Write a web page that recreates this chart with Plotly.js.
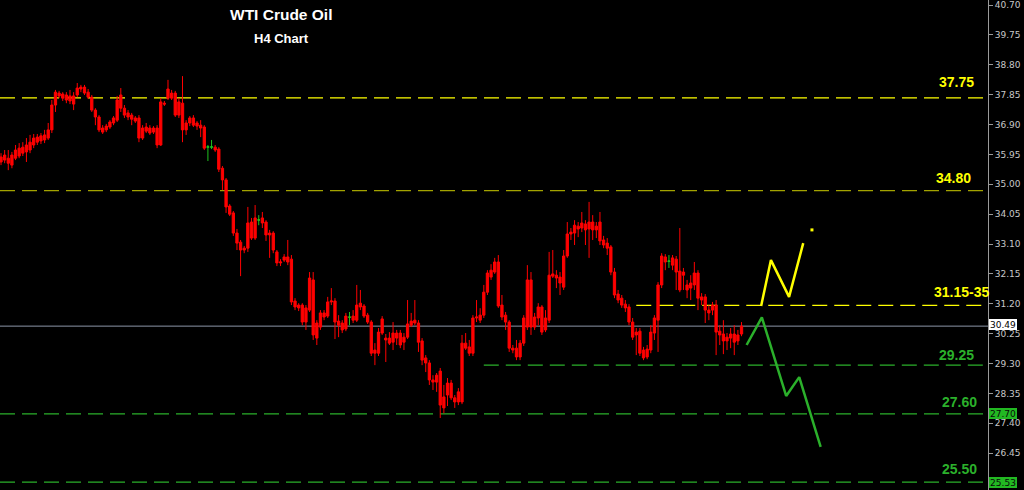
<!DOCTYPE html>
<html>
<head>
<meta charset="utf-8">
<script src="https://cdn.plot.ly/plotly-3.0.1.min.js"></script>
<style>html,body{margin:0;padding:0;background:#000;}#chart{width:1024px;height:490px;}</style>
</head>
<body>
<div id="chart"></div>
<script>
// ---- data (WTI Crude Oil, H4) ----
const openP = [35.71,35.93,35.67,35.61,35.83,35.90,35.99,36.03,36.09,36.25,36.34,36.38,36.41,36.47,36.73,37.52,37.90,37.87,37.84,37.81,37.55,37.84,38.09,38.09,37.93,37.77,37.36,37.14,36.66,36.73,36.82,36.95,37.04,37.84,37.42,37.27,37.20,37.11,37.11,36.47,36.82,36.63,36.79,36.79,36.25,37.58,37.74,37.90,37.90,37.20,37.58,36.73,36.95,37.11,36.95,36.88,36.82,36.18,36.18,36.18,36.12,35.51,35.14,34.31,34.09,33.45,33.16,32.91,32.97,33.80,33.29,33.86,33.93,33.80,33.45,33.45,32.85,32.50,32.59,32.69,32.62,31.29,31.16,31.16,30.62,31.00,31.96,30.11,30.46,30.78,30.81,31.26,31.29,30.65,30.59,30.40,30.77,30.81,30.68,31.10,31.13,30.84,30.62,29.73,29.63,30.27,30.11,30.11,29.98,30.27,30.27,29.98,30.14,30.52,30.68,30.59,30.02,29.48,29.32,28.78,28.71,29.06,27.89,28.30,28.68,28.21,28.08,28.08,29.95,29.83,29.63,30.75,30.68,30.84,31.57,32.05,32.21,32.53,31.16,30.84,30.62,29.79,29.79,29.51,29.95,30.46,31.96,30.46,30.75,31.10,30.37,30.68,32.08,32.11,32.05,31.73,32.72,33.42,33.45,33.67,33.61,33.74,33.58,33.80,33.55,33.80,33.23,33.13,33.01,32.21,31.51,31.38,31.19,31.10,30.62,30.30,30.33,29.73,29.51,29.73,30.27,30.68,31.80,32.69,32.55,32.66,32.62,32.24,32.11,31.80,31.70,31.80,32.18,31.42,31.42,31.00,31.00,31.16,30.33,30.24,30.02,30.11,30.24,30.02,30.24];
const highP = [35.99,36.09,36.09,36.03,36.25,36.31,36.34,36.47,36.57,36.60,36.60,36.63,36.73,36.95,37.68,38.00,37.97,37.93,37.93,38.00,37.93,38.22,38.16,38.16,38.03,37.84,37.42,37.20,36.88,36.92,37.04,37.17,37.81,38.06,37.52,37.36,37.27,37.17,37.20,36.88,36.95,36.88,36.85,36.88,37.74,37.65,38.32,38.00,37.97,37.74,38.44,37.04,37.17,37.20,37.01,37.04,36.88,36.25,36.41,36.25,36.18,35.58,35.20,34.37,34.15,33.58,33.23,33.04,34.28,33.93,34.34,34.02,34.12,33.86,33.55,33.51,32.91,32.62,32.78,33.23,32.75,31.38,31.22,31.22,31.16,32.21,32.21,30.68,31.00,31.00,31.42,31.70,31.38,30.84,30.68,30.91,30.94,31.00,31.80,31.64,31.19,30.91,30.68,29.95,30.43,30.81,30.24,30.30,30.62,30.37,30.37,30.27,31.32,30.91,31.32,30.68,30.11,29.57,29.41,28.93,29.00,29.16,28.62,28.84,28.78,28.30,28.52,30.21,30.27,30.05,30.84,31.32,31.06,31.80,32.27,32.46,32.66,32.75,31.48,30.94,30.68,29.89,30.05,30.05,30.84,32.43,32.21,30.91,31.22,31.16,31.00,32.85,32.91,32.27,32.21,32.91,33.80,33.61,33.86,33.80,34.12,33.86,34.44,34.02,33.80,34.12,33.36,33.29,33.07,32.34,31.64,31.48,31.32,31.19,30.75,30.43,30.43,29.83,29.89,30.52,30.84,31.89,32.81,32.78,32.75,32.75,32.72,33.61,32.34,31.96,32.11,32.53,32.27,31.54,31.51,31.16,31.26,31.32,30.52,30.68,30.27,30.43,30.52,30.37,30.62];
const lowP = [35.61,35.67,35.45,35.51,35.77,35.83,35.90,35.71,35.99,36.15,36.25,36.28,36.31,36.41,36.63,37.30,37.74,37.65,37.58,37.55,37.36,37.77,37.93,37.84,37.71,37.30,36.88,36.66,36.60,36.66,36.76,36.88,36.98,37.30,37.11,37.04,36.88,36.95,36.34,36.41,36.63,36.57,36.60,36.15,36.22,37.49,37.68,37.68,37.14,37.11,36.34,36.57,36.85,36.82,36.73,36.50,36.09,35.74,36.12,36.03,35.39,34.82,34.09,33.99,33.36,32.91,32.08,32.81,32.85,33.23,33.23,33.70,33.61,33.20,32.66,32.81,32.40,32.40,32.53,32.43,31.16,31.00,30.97,30.52,30.37,30.94,30.05,29.89,30.37,30.68,30.75,31.16,30.08,30.14,30.27,30.33,30.52,30.59,30.62,31.00,30.75,30.56,29.54,29.25,29.54,30.21,29.35,29.89,29.73,29.89,29.79,29.73,30.08,30.46,30.52,29.67,29.25,29.03,28.62,28.46,28.40,27.57,27.72,27.95,28.14,27.89,27.98,28.01,29.73,29.54,29.54,30.62,30.59,30.75,31.48,31.96,32.15,31.07,30.68,30.37,29.67,29.63,29.41,29.41,29.86,30.37,30.21,30.37,30.52,30.21,30.30,30.59,32.02,31.70,31.48,31.64,32.66,33.23,33.07,33.32,33.48,33.07,32.66,33.23,33.29,33.07,32.97,32.75,32.11,31.38,31.22,31.07,30.94,30.52,30.05,29.57,29.54,29.41,29.44,29.63,30.05,29.67,31.70,32.27,32.34,32.27,31.64,31.57,31.64,31.38,31.32,31.64,31.00,31.16,30.59,30.68,30.84,29.57,29.89,29.60,29.73,29.79,29.57,29.89,30.17];
const closeP = [35.87,35.77,35.83,35.93,36.09,36.15,36.18,36.25,36.34,36.47,36.50,36.54,36.57,36.73,37.52,37.93,37.81,37.74,37.68,37.65,37.81,38.06,38.03,37.90,37.77,37.36,37.14,36.73,36.79,36.85,36.98,37.11,37.68,37.42,37.20,37.14,37.07,37.01,36.47,36.79,36.69,36.79,36.66,36.25,37.62,37.55,38.03,37.74,37.20,37.62,36.73,36.95,37.11,36.88,36.85,36.79,36.15,36.19,36.19,36.09,35.48,35.14,34.28,34.05,33.45,33.13,32.91,32.97,33.77,33.29,33.93,33.87,33.77,33.39,33.39,32.91,32.50,32.53,32.69,32.53,31.26,31.10,31.07,30.62,31.07,32.02,30.21,30.59,30.91,30.91,31.26,31.29,30.62,30.52,30.37,30.81,30.78,30.68,31.16,31.22,30.81,30.62,29.63,29.63,30.30,30.72,30.05,29.95,30.27,30.11,29.89,30.14,30.56,30.65,30.59,29.98,29.41,29.32,28.78,28.71,28.93,27.98,28.24,28.68,28.21,28.08,28.40,29.95,29.79,29.63,30.75,30.78,30.84,31.57,32.18,32.27,32.53,31.13,30.78,30.62,29.79,29.73,29.51,29.95,30.75,31.96,30.46,30.78,31.10,30.30,30.75,32.11,32.15,32.02,31.86,32.72,33.42,33.48,33.70,33.58,33.77,33.55,33.80,33.55,33.67,33.20,33.07,32.97,32.21,31.48,31.32,31.16,31.07,30.62,30.14,30.21,29.63,29.48,29.76,30.30,30.75,31.80,32.72,32.53,32.56,32.43,32.21,31.64,32.21,31.64,31.86,32.18,31.38,31.32,31.00,30.91,31.16,30.30,30.21,30.02,30.14,30.24,29.98,30.21,30.49];
const greenBars = [57, 58, 71, 96, 184];   // small green doji bars

const tickLabels = ['40.70','39.75','38.80','37.85','36.90','35.95','35.00','34.05','33.10','32.15','31.20','30.25','29.30','28.35','27.40','26.45'];

const levelValues = [37.75, 34.80, 31.15, 29.25, 27.70, 25.53];
const levelLabels = ['37.75', '34.80', '31.15-35', '29.25', '27.60', '25.50'];
const levelFromBar = [null, null, 175, 133, null, null];

const lastPrice = 30.49;
const axisBoxes = [['30.49', 30.49], ['27.70', 27.70], ['25.53', 25.53]];

const projUpX = [209.4, 212.1, 217.1, 221.0];
const projUpY = [31.13, 32.59, 31.42, 33.13];
const projUpDotX = [223.4];
const projUpDotY = [33.55];
const projDownX = [205.4, 209.6, 216.3, 219.9, 225.8];
const projDownY = [29.89, 30.77, 28.27, 28.87, 26.65];

const titleText = 'WTI Crude Oil';
const subtitleText = 'H4 Chart';

// ---- build traces ----
const idx = openP.map((_, i) => i);
const isGreen = new Set(greenBars);
function pick(arr, green) { return idx.filter(i => isGreen.has(i) === green).map(i => arr[i]); }

const RED = '#ff0000', GREEN = '#1fc21f';
const YEL = '#ffff00', OLIVE = '#a3a300', LGREEN = '#2bb02b';

const traces = [
  {
    type: 'candlestick',
    x: pick(idx, false), open: pick(openP, false), high: pick(highP, false), low: pick(lowP, false), close: pick(closeP, false),
    increasing: {line: {color: RED, width: 1}, fillcolor: RED},
    decreasing: {line: {color: RED, width: 1}, fillcolor: RED},
    whiskerwidth: 0, hoverinfo: 'skip'
  },
  {
    type: 'candlestick',
    x: pick(idx, true), open: pick(openP, true), high: pick(highP, true), low: pick(lowP, true), close: pick(closeP, true),
    increasing: {line: {color: GREEN, width: 1}, fillcolor: GREEN},
    decreasing: {line: {color: GREEN, width: 1}, fillcolor: GREEN},
    whiskerwidth: 0, hoverinfo: 'skip'
  },
  {type: 'scatter', mode: 'lines', x: projUpX, y: projUpY, line: {color: YEL, width: 2.5}, hoverinfo: 'skip'},
  {type: 'scatter', mode: 'markers', x: projUpDotX, y: projUpDotY, marker: {color: YEL, size: 3, symbol: 'square'}, hoverinfo: 'skip'},
  {type: 'scatter', mode: 'lines', x: projDownX, y: projDownY, line: {color: LGREEN, width: 2.5}, hoverinfo: 'skip'}
];

const levelColor = [YEL, OLIVE, YEL, LGREEN, LGREEN, LGREEN];
const labelColor = [YEL, YEL, YEL, LGREEN, LGREEN, LGREEN];
const labelRight = [976, 973, 991, 976, 979, 979];
const labelShift = [16, 13, 13, 10, 12, 13];

const shapes = [];
levelValues.forEach((v, i) => {
  const from = levelFromBar[i];
  shapes.push({
    type: 'line', layer: 'below',
    xref: from === null ? 'paper' : 'x', x0: from === null ? 0 : from, x1: from === null ? 1 : 271.9,
    yref: 'y', y0: v, y1: v,
    line: {color: levelColor[i], width: 1.3, dash: '15px,7px'}
  });
});
shapes.push({type: 'line', layer: 'below', xref: 'paper', x0: 0, x1: 1, yref: 'y', y0: lastPrice, y1: lastPrice,
  line: {color: '#8d97a8', width: 1}});

const PW = 988;
const annotations = [];
levelValues.forEach((v, i) => {
  annotations.push({
    xref: 'paper', x: labelRight[i] / PW, xanchor: 'right',
    yref: 'y', y: v, yanchor: 'middle', yshift: labelShift[i],
    text: '<b>' + levelLabels[i] + '</b>', showarrow: false,
    font: {family: 'Liberation Sans, Arial, sans-serif', size: 14, color: labelColor[i]}
  });
});
axisBoxes.forEach((b, i) => {
  annotations.push({
    xref: 'paper', x: 1, xanchor: 'left', xshift: 1,
    yref: 'y', y: b[1], yanchor: 'middle', yshift: i === 0 ? 1.5 : 0,
    text: b[0], showarrow: false, width: 28, height: 11, align: 'center',
    bgcolor: i === 0 ? '#ffffff' : '#22b822', borderpad: 0, borderwidth: 0,
    font: {family: 'DejaVu Sans, sans-serif', size: 9, color: i === 0 ? '#000000' : '#0a0a0a'}
  });
});
annotations.push({xref: 'paper', x: 281 / PW, xanchor: 'center', yref: 'paper', y: 1 - 14 / 490, yanchor: 'middle',
  text: '<b>' + titleText + '</b>', showarrow: false,
  font: {family: 'Liberation Sans, Arial, sans-serif', size: 15.5, color: '#ffffff'}});
annotations.push({xref: 'paper', x: 281 / PW, xanchor: 'center', yref: 'paper', y: 1 - 39 / 490, yanchor: 'middle',
  text: '<b>' + subtitleText + '</b>', showarrow: false,
  font: {family: 'Liberation Sans, Arial, sans-serif', size: 13, color: '#ffffff'}});

const layout = {
  width: 1024, height: 490,
  margin: {l: 0, r: 36, t: 0, b: 0, pad: 0},
  paper_bgcolor: '#000000', plot_bgcolor: '#000000',
  showlegend: false, hovermode: false,
  boxgap: 0.1,
  xaxis: {range: [-0.28, 271.9], visible: false, rangeslider: {visible: false}, fixedrange: true},
  yaxis: {
    side: 'right', range: [25.28, 40.86], fixedrange: true,
    tickvals: tickLabels.map(Number), ticktext: tickLabels,
    showgrid: false, zeroline: false,
    showline: true, linecolor: '#9a9a9a', linewidth: 1,
    ticks: 'outside', ticklen: 4, tickcolor: '#9a9a9a',
    tickfont: {family: 'DejaVu Sans, sans-serif', size: 9, color: '#c8c8c8'}
  },
  shapes: shapes,
  annotations: annotations
};

Plotly.newPlot('chart', traces, layout, {displayModeBar: false, staticPlot: true});
</script>
</body>
</html>
